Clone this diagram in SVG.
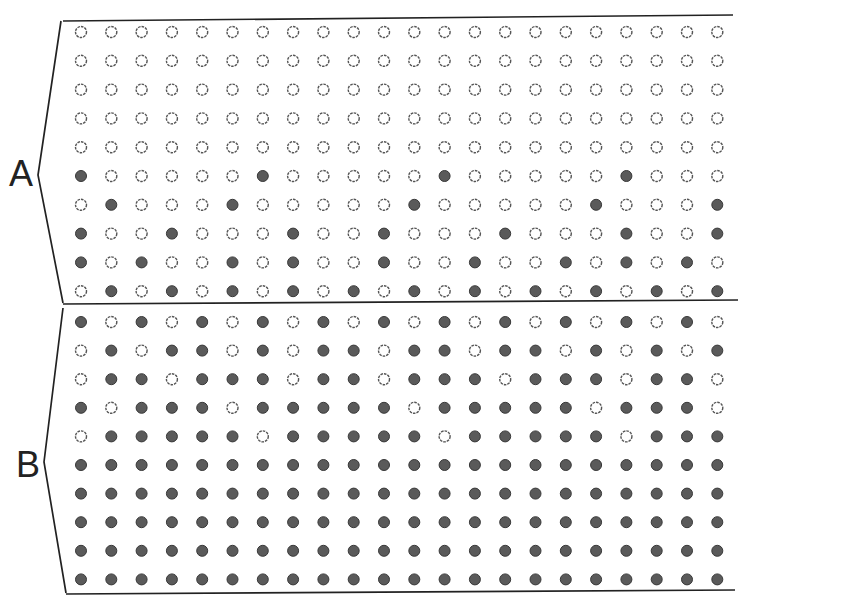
<svg xmlns="http://www.w3.org/2000/svg" xmlns:xlink="http://www.w3.org/1999/xlink" width="852" height="599" viewBox="0 0 852 599">
<style>
.ln{fill:none;stroke:#222;stroke-width:1.7;stroke-linejoin:miter}
.lb{font-family:"Liberation Sans",Arial,sans-serif;font-size:36px;fill:#222}
</style>
<defs>
<circle id="e" r="5.5" fill="#fff" stroke="#555" stroke-width="1.4" stroke-dasharray="2.6 1"/>
<circle id="f" r="5.5" fill="#5a5a5a" stroke="#383838" stroke-width="1"/>
</defs>
<rect width="852" height="599" fill="#fff"/>
<g id="connectors">
<path class="ln" d="M63,21 L733,15"/>
<path class="ln" d="M61,21 L38,175 L63,303"/>
<path class="ln" d="M63,304 L738,300"/>
<path class="ln" d="M63,308 L44,462 L66,593"/>
<path class="ln" d="M66,594 L735,590"/>
</g>
<g id="labelA"><text class="lb" x="9" y="186">A</text></g>
<g id="labelB"><text class="lb" x="16" y="477">B</text></g>
<g id="zoneA">
<g id="r1" transform="translate(0,32)"><use href="#e" x="81"/><use href="#e" x="111.3"/><use href="#e" x="141.6"/><use href="#e" x="171.9"/><use href="#e" x="202.2"/><use href="#e" x="232.5"/><use href="#e" x="262.8"/><use href="#e" x="293.1"/><use href="#e" x="323.4"/><use href="#e" x="353.7"/><use href="#e" x="384"/><use href="#e" x="414.3"/><use href="#e" x="444.6"/><use href="#e" x="474.9"/><use href="#e" x="505.2"/><use href="#e" x="535.5"/><use href="#e" x="565.8"/><use href="#e" x="596.1"/><use href="#e" x="626.4"/><use href="#e" x="656.7"/><use href="#e" x="687"/><use href="#e" x="717.3"/></g>
<g id="r2" transform="translate(0,60.8)"><use href="#e" x="81"/><use href="#e" x="111.3"/><use href="#e" x="141.6"/><use href="#e" x="171.9"/><use href="#e" x="202.2"/><use href="#e" x="232.5"/><use href="#e" x="262.8"/><use href="#e" x="293.1"/><use href="#e" x="323.4"/><use href="#e" x="353.7"/><use href="#e" x="384"/><use href="#e" x="414.3"/><use href="#e" x="444.6"/><use href="#e" x="474.9"/><use href="#e" x="505.2"/><use href="#e" x="535.5"/><use href="#e" x="565.8"/><use href="#e" x="596.1"/><use href="#e" x="626.4"/><use href="#e" x="656.7"/><use href="#e" x="687"/><use href="#e" x="717.3"/></g>
<g id="r3" transform="translate(0,89.6)"><use href="#e" x="81"/><use href="#e" x="111.3"/><use href="#e" x="141.6"/><use href="#e" x="171.9"/><use href="#e" x="202.2"/><use href="#e" x="232.5"/><use href="#e" x="262.8"/><use href="#e" x="293.1"/><use href="#e" x="323.4"/><use href="#e" x="353.7"/><use href="#e" x="384"/><use href="#e" x="414.3"/><use href="#e" x="444.6"/><use href="#e" x="474.9"/><use href="#e" x="505.2"/><use href="#e" x="535.5"/><use href="#e" x="565.8"/><use href="#e" x="596.1"/><use href="#e" x="626.4"/><use href="#e" x="656.7"/><use href="#e" x="687"/><use href="#e" x="717.3"/></g>
<g id="r4" transform="translate(0,118.4)"><use href="#e" x="81"/><use href="#e" x="111.3"/><use href="#e" x="141.6"/><use href="#e" x="171.9"/><use href="#e" x="202.2"/><use href="#e" x="232.5"/><use href="#e" x="262.8"/><use href="#e" x="293.1"/><use href="#e" x="323.4"/><use href="#e" x="353.7"/><use href="#e" x="384"/><use href="#e" x="414.3"/><use href="#e" x="444.6"/><use href="#e" x="474.9"/><use href="#e" x="505.2"/><use href="#e" x="535.5"/><use href="#e" x="565.8"/><use href="#e" x="596.1"/><use href="#e" x="626.4"/><use href="#e" x="656.7"/><use href="#e" x="687"/><use href="#e" x="717.3"/></g>
<g id="r5" transform="translate(0,147.2)"><use href="#e" x="81"/><use href="#e" x="111.3"/><use href="#e" x="141.6"/><use href="#e" x="171.9"/><use href="#e" x="202.2"/><use href="#e" x="232.5"/><use href="#e" x="262.8"/><use href="#e" x="293.1"/><use href="#e" x="323.4"/><use href="#e" x="353.7"/><use href="#e" x="384"/><use href="#e" x="414.3"/><use href="#e" x="444.6"/><use href="#e" x="474.9"/><use href="#e" x="505.2"/><use href="#e" x="535.5"/><use href="#e" x="565.8"/><use href="#e" x="596.1"/><use href="#e" x="626.4"/><use href="#e" x="656.7"/><use href="#e" x="687"/><use href="#e" x="717.3"/></g>
<g id="r6" transform="translate(0,176)"><use href="#f" x="81"/><use href="#e" x="111.3"/><use href="#e" x="141.6"/><use href="#e" x="171.9"/><use href="#e" x="202.2"/><use href="#e" x="232.5"/><use href="#f" x="262.8"/><use href="#e" x="293.1"/><use href="#e" x="323.4"/><use href="#e" x="353.7"/><use href="#e" x="384"/><use href="#e" x="414.3"/><use href="#f" x="444.6"/><use href="#e" x="474.9"/><use href="#e" x="505.2"/><use href="#e" x="535.5"/><use href="#e" x="565.8"/><use href="#e" x="596.1"/><use href="#f" x="626.4"/><use href="#e" x="656.7"/><use href="#e" x="687"/><use href="#e" x="717.3"/></g>
<g id="r7" transform="translate(0,204.8)"><use href="#e" x="81"/><use href="#f" x="111.3"/><use href="#e" x="141.6"/><use href="#e" x="171.9"/><use href="#e" x="202.2"/><use href="#f" x="232.5"/><use href="#e" x="262.8"/><use href="#e" x="293.1"/><use href="#e" x="323.4"/><use href="#e" x="353.7"/><use href="#e" x="384"/><use href="#f" x="414.3"/><use href="#e" x="444.6"/><use href="#e" x="474.9"/><use href="#e" x="505.2"/><use href="#e" x="535.5"/><use href="#e" x="565.8"/><use href="#f" x="596.1"/><use href="#e" x="626.4"/><use href="#e" x="656.7"/><use href="#e" x="687"/><use href="#f" x="717.3"/></g>
<g id="r8" transform="translate(0,233.6)"><use href="#f" x="81"/><use href="#e" x="111.3"/><use href="#e" x="141.6"/><use href="#f" x="171.9"/><use href="#e" x="202.2"/><use href="#e" x="232.5"/><use href="#e" x="262.8"/><use href="#f" x="293.1"/><use href="#e" x="323.4"/><use href="#e" x="353.7"/><use href="#f" x="384"/><use href="#e" x="414.3"/><use href="#e" x="444.6"/><use href="#e" x="474.9"/><use href="#f" x="505.2"/><use href="#e" x="535.5"/><use href="#e" x="565.8"/><use href="#e" x="596.1"/><use href="#f" x="626.4"/><use href="#e" x="656.7"/><use href="#e" x="687"/><use href="#f" x="717.3"/></g>
<g id="r9" transform="translate(0,262.4)"><use href="#f" x="81"/><use href="#e" x="111.3"/><use href="#f" x="141.6"/><use href="#e" x="171.9"/><use href="#e" x="202.2"/><use href="#f" x="232.5"/><use href="#e" x="262.8"/><use href="#f" x="293.1"/><use href="#e" x="323.4"/><use href="#e" x="353.7"/><use href="#f" x="384"/><use href="#e" x="414.3"/><use href="#e" x="444.6"/><use href="#f" x="474.9"/><use href="#e" x="505.2"/><use href="#e" x="535.5"/><use href="#f" x="565.8"/><use href="#e" x="596.1"/><use href="#f" x="626.4"/><use href="#e" x="656.7"/><use href="#f" x="687"/><use href="#e" x="717.3"/></g>
<g id="r10" transform="translate(0,291.2)"><use href="#e" x="81"/><use href="#f" x="111.3"/><use href="#e" x="141.6"/><use href="#f" x="171.9"/><use href="#e" x="202.2"/><use href="#f" x="232.5"/><use href="#e" x="262.8"/><use href="#f" x="293.1"/><use href="#e" x="323.4"/><use href="#f" x="353.7"/><use href="#e" x="384"/><use href="#f" x="414.3"/><use href="#e" x="444.6"/><use href="#f" x="474.9"/><use href="#e" x="505.2"/><use href="#f" x="535.5"/><use href="#e" x="565.8"/><use href="#f" x="596.1"/><use href="#e" x="626.4"/><use href="#f" x="656.7"/><use href="#e" x="687"/><use href="#f" x="717.3"/></g>
</g>
<g id="zoneB">
<g id="r11" transform="translate(0,322)"><use href="#f" x="81"/><use href="#e" x="111.3"/><use href="#f" x="141.6"/><use href="#e" x="171.9"/><use href="#f" x="202.2"/><use href="#e" x="232.5"/><use href="#f" x="262.8"/><use href="#e" x="293.1"/><use href="#f" x="323.4"/><use href="#e" x="353.7"/><use href="#f" x="384"/><use href="#e" x="414.3"/><use href="#f" x="444.6"/><use href="#e" x="474.9"/><use href="#f" x="505.2"/><use href="#e" x="535.5"/><use href="#f" x="565.8"/><use href="#e" x="596.1"/><use href="#f" x="626.4"/><use href="#e" x="656.7"/><use href="#f" x="687"/><use href="#e" x="717.3"/></g>
<g id="r12" transform="translate(0,350.6)"><use href="#e" x="81"/><use href="#f" x="111.3"/><use href="#e" x="141.6"/><use href="#f" x="171.9"/><use href="#f" x="202.2"/><use href="#e" x="232.5"/><use href="#f" x="262.8"/><use href="#e" x="293.1"/><use href="#f" x="323.4"/><use href="#f" x="353.7"/><use href="#e" x="384"/><use href="#f" x="414.3"/><use href="#f" x="444.6"/><use href="#e" x="474.9"/><use href="#f" x="505.2"/><use href="#f" x="535.5"/><use href="#e" x="565.8"/><use href="#f" x="596.1"/><use href="#e" x="626.4"/><use href="#f" x="656.7"/><use href="#e" x="687"/><use href="#f" x="717.3"/></g>
<g id="r13" transform="translate(0,379.2)"><use href="#e" x="81"/><use href="#f" x="111.3"/><use href="#f" x="141.6"/><use href="#e" x="171.9"/><use href="#f" x="202.2"/><use href="#f" x="232.5"/><use href="#f" x="262.8"/><use href="#e" x="293.1"/><use href="#f" x="323.4"/><use href="#f" x="353.7"/><use href="#e" x="384"/><use href="#f" x="414.3"/><use href="#f" x="444.6"/><use href="#f" x="474.9"/><use href="#e" x="505.2"/><use href="#f" x="535.5"/><use href="#f" x="565.8"/><use href="#f" x="596.1"/><use href="#e" x="626.4"/><use href="#f" x="656.7"/><use href="#f" x="687"/><use href="#e" x="717.3"/></g>
<g id="r14" transform="translate(0,407.8)"><use href="#f" x="81"/><use href="#e" x="111.3"/><use href="#f" x="141.6"/><use href="#f" x="171.9"/><use href="#f" x="202.2"/><use href="#e" x="232.5"/><use href="#f" x="262.8"/><use href="#f" x="293.1"/><use href="#f" x="323.4"/><use href="#f" x="353.7"/><use href="#f" x="384"/><use href="#e" x="414.3"/><use href="#f" x="444.6"/><use href="#f" x="474.9"/><use href="#f" x="505.2"/><use href="#f" x="535.5"/><use href="#f" x="565.8"/><use href="#e" x="596.1"/><use href="#f" x="626.4"/><use href="#f" x="656.7"/><use href="#f" x="687"/><use href="#e" x="717.3"/></g>
<g id="r15" transform="translate(0,436.4)"><use href="#e" x="81"/><use href="#f" x="111.3"/><use href="#f" x="141.6"/><use href="#f" x="171.9"/><use href="#f" x="202.2"/><use href="#f" x="232.5"/><use href="#e" x="262.8"/><use href="#f" x="293.1"/><use href="#f" x="323.4"/><use href="#f" x="353.7"/><use href="#f" x="384"/><use href="#f" x="414.3"/><use href="#e" x="444.6"/><use href="#f" x="474.9"/><use href="#f" x="505.2"/><use href="#f" x="535.5"/><use href="#f" x="565.8"/><use href="#f" x="596.1"/><use href="#e" x="626.4"/><use href="#f" x="656.7"/><use href="#f" x="687"/><use href="#f" x="717.3"/></g>
<g id="r16" transform="translate(0,465)"><use href="#f" x="81"/><use href="#f" x="111.3"/><use href="#f" x="141.6"/><use href="#f" x="171.9"/><use href="#f" x="202.2"/><use href="#f" x="232.5"/><use href="#f" x="262.8"/><use href="#f" x="293.1"/><use href="#f" x="323.4"/><use href="#f" x="353.7"/><use href="#f" x="384"/><use href="#f" x="414.3"/><use href="#f" x="444.6"/><use href="#f" x="474.9"/><use href="#f" x="505.2"/><use href="#f" x="535.5"/><use href="#f" x="565.8"/><use href="#f" x="596.1"/><use href="#f" x="626.4"/><use href="#f" x="656.7"/><use href="#f" x="687"/><use href="#f" x="717.3"/></g>
<g id="r17" transform="translate(0,493.6)"><use href="#f" x="81"/><use href="#f" x="111.3"/><use href="#f" x="141.6"/><use href="#f" x="171.9"/><use href="#f" x="202.2"/><use href="#f" x="232.5"/><use href="#f" x="262.8"/><use href="#f" x="293.1"/><use href="#f" x="323.4"/><use href="#f" x="353.7"/><use href="#f" x="384"/><use href="#f" x="414.3"/><use href="#f" x="444.6"/><use href="#f" x="474.9"/><use href="#f" x="505.2"/><use href="#f" x="535.5"/><use href="#f" x="565.8"/><use href="#f" x="596.1"/><use href="#f" x="626.4"/><use href="#f" x="656.7"/><use href="#f" x="687"/><use href="#f" x="717.3"/></g>
<g id="r18" transform="translate(0,522.2)"><use href="#f" x="81"/><use href="#f" x="111.3"/><use href="#f" x="141.6"/><use href="#f" x="171.9"/><use href="#f" x="202.2"/><use href="#f" x="232.5"/><use href="#f" x="262.8"/><use href="#f" x="293.1"/><use href="#f" x="323.4"/><use href="#f" x="353.7"/><use href="#f" x="384"/><use href="#f" x="414.3"/><use href="#f" x="444.6"/><use href="#f" x="474.9"/><use href="#f" x="505.2"/><use href="#f" x="535.5"/><use href="#f" x="565.8"/><use href="#f" x="596.1"/><use href="#f" x="626.4"/><use href="#f" x="656.7"/><use href="#f" x="687"/><use href="#f" x="717.3"/></g>
<g id="r19" transform="translate(0,550.8)"><use href="#f" x="81"/><use href="#f" x="111.3"/><use href="#f" x="141.6"/><use href="#f" x="171.9"/><use href="#f" x="202.2"/><use href="#f" x="232.5"/><use href="#f" x="262.8"/><use href="#f" x="293.1"/><use href="#f" x="323.4"/><use href="#f" x="353.7"/><use href="#f" x="384"/><use href="#f" x="414.3"/><use href="#f" x="444.6"/><use href="#f" x="474.9"/><use href="#f" x="505.2"/><use href="#f" x="535.5"/><use href="#f" x="565.8"/><use href="#f" x="596.1"/><use href="#f" x="626.4"/><use href="#f" x="656.7"/><use href="#f" x="687"/><use href="#f" x="717.3"/></g>
<g id="r20" transform="translate(0,579.4)"><use href="#f" x="81"/><use href="#f" x="111.3"/><use href="#f" x="141.6"/><use href="#f" x="171.9"/><use href="#f" x="202.2"/><use href="#f" x="232.5"/><use href="#f" x="262.8"/><use href="#f" x="293.1"/><use href="#f" x="323.4"/><use href="#f" x="353.7"/><use href="#f" x="384"/><use href="#f" x="414.3"/><use href="#f" x="444.6"/><use href="#f" x="474.9"/><use href="#f" x="505.2"/><use href="#f" x="535.5"/><use href="#f" x="565.8"/><use href="#f" x="596.1"/><use href="#f" x="626.4"/><use href="#f" x="656.7"/><use href="#f" x="687"/><use href="#f" x="717.3"/></g>
</g>
</svg>
